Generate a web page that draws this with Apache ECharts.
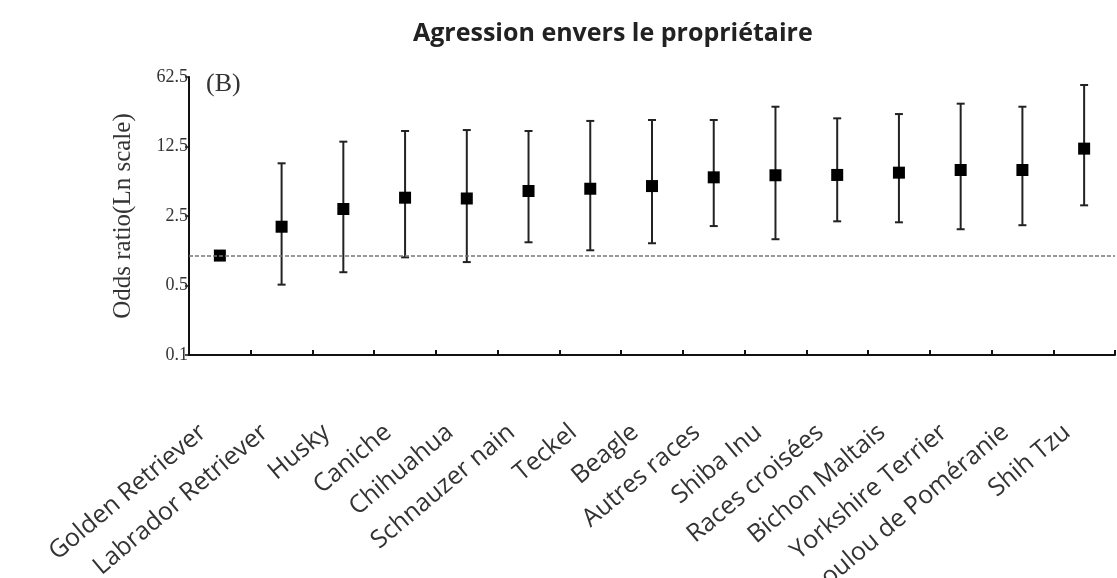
<!DOCTYPE html>
<html>
<head>
<meta charset="utf-8">
<script src="https://cdn.jsdelivr.net/npm/echarts@6/dist/echarts.min.js"></script>
<style>
html,body{margin:0;padding:0;background:#fff;}
#chart{width:1117px;height:578px;}
</style>
</head>
<body>
<div id="chart"></div>
<script>
// ---- data ----
const categories = ['Golden Retriever','Labrador Retriever','Husky','Caniche','Chihuahua','Schnauzer nain','Teckel','Beagle','Autres races','Shiba Inu','Races croisées','Bichon Maltais','Yorkshire Terrier','Loulou de Poméranie','Shih Tzu'];
const oddsRatio = [1.0, 1.95, 2.94, 3.82, 3.75, 4.46, 4.70, 5.0, 6.12, 6.42, 6.47, 6.82, 7.25, 7.25, 11.9];
const ciLower = [null, 0.51, 0.68, 0.96, 0.86, 1.36, 1.13, 1.33, 1.98, 1.46, 2.21, 2.16, 1.84, 2.02, 3.2];
const ciUpper = [null, 8.47, 13.98, 17.9, 18.3, 17.9, 22.6, 23.1, 23.1, 31.4, 24.0, 26.5, 33.7, 31.4, 51.9];
const yTicks = [0.1, 0.5, 2.5, 12.5, 62.5];
const referenceValue = 1;

const errorData = categories.map((c, i) => [i, ciLower[i], ciUpper[i]]);

const chart = echarts.init(document.getElementById('chart'));
chart.setOption({
  animation: false,
  backgroundColor: '#fff',
  title: {
    text: 'Agression envers le propriétaire',
    left: 408, top: 16,
    textStyle: {fontFamily: 'Open Sans', fontWeight: 'bold', fontSize: 25, color: '#222'}
  },
  graphic: [{
    type: 'text', left: 206, top: 71,
    style: {text: '(B)', font: '26px "Liberation Serif"', fill: '#333'}
  }],
  grid: {left: 189, right: 2, top: 77, bottom: 223, outerBoundsMode: 'none', containLabel: false},
  xAxis: {
    type: 'category',
    data: categories,
    boundaryGap: true,
    axisLine: {lineStyle: {color: '#111', width: 2}},
    axisTick: {show: true, inside: true, length: 5, lineStyle: {color: '#111', width: 2}},
    axisLabel: {
      interval: 0, rotate: 40, margin: 60,
      padding: [0, 22, 0, 0],
      hideOverlap: false,
      fontFamily: 'Open Sans', fontSize: 25, color: '#333'
    },
    splitLine: {show: false}
  },
  yAxis: {
    type: 'log', logBase: 5, min: 0.1, max: 62.5,
    name: 'Odds ratio(Ln scale)',
    nameLocation: 'middle', nameGap: 53,
    nameTextStyle: {fontFamily: 'Liberation Serif', fontSize: 25, color: '#333'},
    axisLine: {show: true, lineStyle: {color: '#111', width: 2}},
    axisTick: {show: true, length: 4, customValues: yTicks, lineStyle: {color: '#111', width: 1.5}},
    axisLabel: {
      customValues: yTicks, margin: 1,
      fontFamily: 'Liberation Serif', fontSize: 18, color: '#333',
      formatter: v => String(+(+v).toPrecision(3))
    },
    splitLine: {show: false}
  },
  series: [
    {
      type: 'custom',
      data: errorData,
      z: 2,
      renderItem: function (params, api) {
        const lo = api.value(1), hi = api.value(2);
        if (lo == null || hi == null || isNaN(lo) || isNaN(hi)) return null;
        const p1 = api.coord([api.value(0), lo]);
        const p2 = api.coord([api.value(0), hi]);
        const cap = 4;
        const style = {stroke: '#222', lineWidth: 2};
        return {
          type: 'group',
          children: [
            {type: 'line', shape: {x1: p1[0], y1: p1[1], x2: p2[0], y2: p2[1]}, style: style},
            {type: 'line', shape: {x1: p1[0]-cap, y1: p1[1], x2: p1[0]+cap, y2: p1[1]}, style: style},
            {type: 'line', shape: {x1: p2[0]-cap, y1: p2[1], x2: p2[0]+cap, y2: p2[1]}, style: style}
          ]
        };
      }
    },
    {
      type: 'scatter',
      data: oddsRatio,
      symbol: 'rect',
      symbolSize: 12,
      z: 3,
      itemStyle: {color: '#000', opacity: 1},
      markLine: {
        silent: true,
        symbol: 'none',
        label: {show: false},
        lineStyle: {color: '#777', type: [4, 2], width: 1.5},
        data: [{yAxis: referenceValue}]
      }
    }
  ]
});
</script>
</body>
</html>
